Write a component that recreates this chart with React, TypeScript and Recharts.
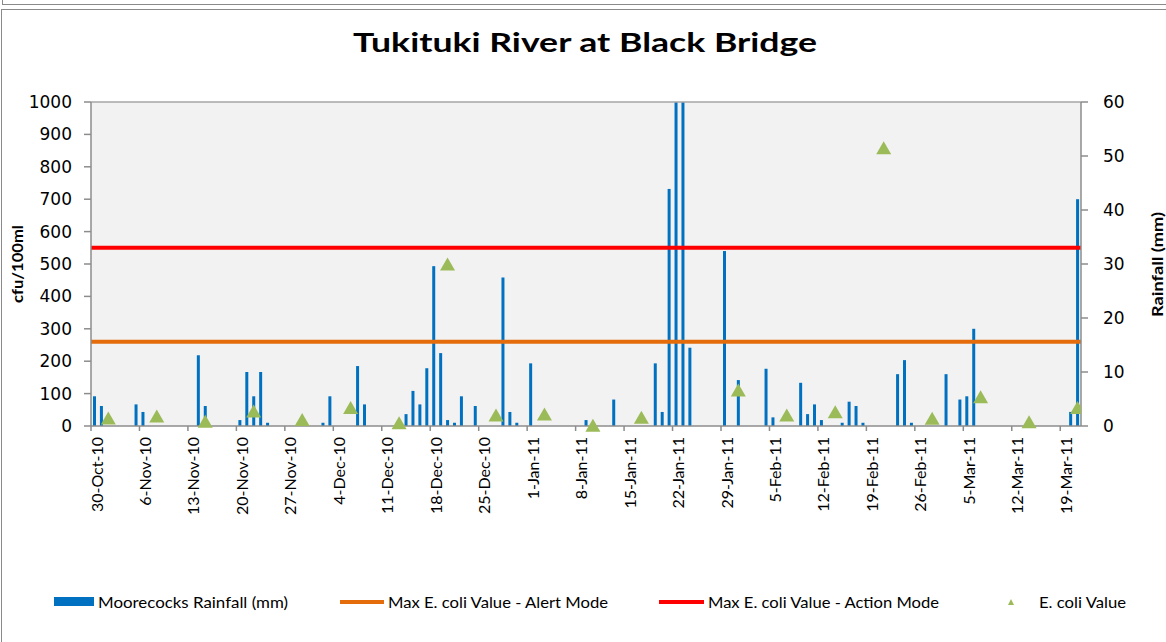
import React from 'react';
import { ComposedChart, Bar, Scatter, XAxis, YAxis, ReferenceLine, CartesianGrid } from 'recharts';

// Day index 0 = 30-Oct-10
const tickDays = [0, 7, 14, 21, 28, 35, 42, 49, 56, 63, 70, 77, 84, 91, 98, 105, 112, 119, 126, 133, 140];
const tickLabels = [
  '30-Oct-10', '6-Nov-10', '13-Nov-10', '20-Nov-10', '27-Nov-10', '4-Dec-10', '11-Dec-10',
  '18-Dec-10', '25-Dec-10', '1-Jan-11', '8-Jan-11', '15-Jan-11', '22-Jan-11', '29-Jan-11',
  '5-Feb-11', '12-Feb-11', '19-Feb-11', '26-Feb-11', '5-Mar-11', '12-Mar-11', '19-Mar-11',
];

const rainfallDays = [
  0, 1, 6, 7, 15, 16, 21, 22, 23, 24, 25, 33, 34, 38, 39, 45, 46, 47, 48, 49, 50, 51, 52, 53, 55,
  59, 60, 61, 63, 71, 75, 81, 82, 83, 84, 85, 86, 91, 93, 97, 98, 102, 103, 104, 105, 108, 109,
  110, 111, 116, 117, 118, 123, 125, 126, 127, 141, 142,
];
const rainfallMm = [
  5.5, 3.7, 4.0, 2.6, 13.1, 3.7, 1.1, 10.0, 5.5, 10.0, 0.6, 0.6, 5.5, 11.1, 4.0, 2.2, 6.5, 4.0, 10.7, 29.6, 13.5, 1.1, 0.6, 5.5, 3.7,
  27.5, 2.6, 0.6, 11.6, 1.1, 4.9, 11.6, 2.6, 43.9, 75, 70, 14.5, 32.4, 8.5, 10.6, 1.6, 8.0, 2.2, 4.0, 1.1, 0.6, 4.5,
  3.7, 0.6, 9.6, 12.2, 0.6, 9.6, 4.9, 5.5, 18.0, 2.6, 42.0,
];

const ecoliDays = [2, 9, 16, 23, 30, 37, 44, 51, 58, 65, 72, 79, 93, 100, 107, 114, 121, 128, 135, 142];
const ecoliValues = [25, 31, 15, 46, 20, 57, 10, 500, 34, 37, 2, 27, 111, 34, 44, 859, 24, 90, 13, 57];

const alertLimit = 260;
const actionLimit = 550;

const leftTicks = [0, 100, 200, 300, 400, 500, 600, 700, 800, 900, 1000];
const rightTicks = [0, 10, 20, 30, 40, 50, 60];

const rainData = rainfallDays.map((d, i) => ({ x: d + 0.5, rain: rainfallMm[i] }));
const ecoliData = ecoliDays.map((d, i) => ({ x: d + 0.5, y: ecoliValues[i] }));

const AXIS = '#8C8C8C';
const FONT = 'Lato, "DejaVu Sans", sans-serif';

const XTick = (props: any) => {
  const { x, y, payload } = props;
  const idx = tickDays.indexOf(payload.value);
  const label = idx >= 0 ? tickLabels[idx] : '';
  return (
    <text
      transform={`translate(${x + 5},${y + 4}) rotate(-90)`}
      textAnchor="end"
      dominantBaseline="central"
      fontFamily={FONT}
      fontSize={16}
      fill="#000"
    >
      {label}
    </text>
  );
};

const Tri = (props: any) => {
  const { cx, cy } = props;
  if (cx == null || cy == null) return null;
  const pts = `${cx},${cy - 6.5} ${cx - 7.5},${cy + 6.5} ${cx + 7.5},${cy + 6.5}`;
  return <polygon points={pts} fill="#9BBB59" />;
};

export default function App() {
  return (
    <div style={{ position: 'absolute', left: 0, top: 0, width: 1166, height: 642, overflow: 'hidden', background: '#fff' }}>
      <div style={{ position: 'absolute', left: 2, top: -2, width: 1170, height: 6, borderLeft: '1px solid #8a8a8a', borderBottom: '1px solid #8a8a8a' }} />
      <div style={{ position: 'absolute', left: 1, top: 9, width: 1170, height: 640, borderLeft: '1px solid #8a8a8a', borderTop: '1px solid #8a8a8a' }} />
      <div style={{ position: 'absolute', left: 0, top: 0 }}>
        <ComposedChart
          width={1166}
          height={642}
          data={rainData}
          margin={{ top: 102, right: 20, bottom: 116, left: 20 }}
        >
          <CartesianGrid yAxisId="left" horizontal={false} vertical={false} fill="#F2F2F2" />
          <XAxis
            dataKey="x"
            type="number"
            domain={[0, 143]}
            allowDataOverflow
            ticks={tickDays}
            interval={0}
            tick={<XTick />}
            tickSize={5}
            height={100}
            axisLine={{ stroke: AXIS, strokeWidth: 1.5 }}
            tickLine={{ stroke: AXIS, strokeWidth: 1.5 }}
          />
          <YAxis
            yAxisId="left"
            orientation="left"
            domain={[0, 1000]}
            ticks={leftTicks}
            interval={0}
            width={71}
            tickSize={7}
            tickMargin={12}
            tick={{ fontFamily: '"DejaVu Sans", sans-serif', fontSize: 17, fill: '#000' }}
            axisLine={{ stroke: AXIS, strokeWidth: 1.5 }}
            tickLine={{ stroke: AXIS, strokeWidth: 1.5 }}
          />
          <YAxis
            yAxisId="right"
            orientation="right"
            domain={[0, 60]}
            allowDataOverflow
            ticks={rightTicks}
            interval={0}
            width={65}
            tickSize={7}
            tickMargin={15}
            tick={{ fontFamily: '"DejaVu Sans", sans-serif', fontSize: 17, fill: '#000', textAnchor: 'start' }}
            axisLine={{ stroke: AXIS, strokeWidth: 1.5 }}
            tickLine={{ stroke: AXIS, strokeWidth: 1.5 }}
          />
          <ReferenceLine yAxisId="left" y={1000} stroke="#A6A6A6" strokeWidth={1.5} />
          <ReferenceLine yAxisId="left" y={alertLimit} stroke="#E46C0A" strokeWidth={4} />
          <ReferenceLine yAxisId="left" y={actionLimit} stroke="#FF0000" strokeWidth={4} />
          <Bar dataKey="rain" yAxisId="right" fill="#0070C0" barSize={3} isAnimationActive={false} />
          <Scatter data={ecoliData} dataKey="y" yAxisId="left" fill="#9BBB59" shape={Tri} isAnimationActive={false} />
        </ComposedChart>
      </div>
      <svg width={1166} height={642} style={{ position: 'absolute', left: 0, top: 0, pointerEvents: 'none' }}>
        <text x={353} y={52} textLength={464} lengthAdjust="spacingAndGlyphs" fontFamily={FONT} fontWeight={700} fontSize={27} fill="#000">
          Tukituki River at Black Bridge
        </text>
        <text transform="translate(16,303) rotate(-90)" textLength={78} lengthAdjust="spacingAndGlyphs" dominantBaseline="central" fontFamily={FONT} fontWeight={700} fontSize={16} fill="#000">
          cfu/100ml
        </text>
        <text transform="translate(1156,317) rotate(-90)" textLength={105} lengthAdjust="spacingAndGlyphs" dominantBaseline="central" fontFamily={FONT} fontWeight={700} fontSize={16} fill="#000">
          Rainfall (mm)
        </text>
        <g fontFamily={FONT} fontSize={15} fill="#000">
          <rect x={54} y={597} width={40} height={9} fill="#0070C0" />
          <text x={98} y={608} textLength={190} lengthAdjust="spacingAndGlyphs">Moorecocks Rainfall (mm)</text>
          <line x1={340} x2={384} y1={602} y2={602} stroke="#E46C0A" strokeWidth={4} />
          <text x={388} y={608} textLength={220} lengthAdjust="spacingAndGlyphs">Max E. coli Value - Alert Mode</text>
          <line x1={659} x2={704} y1={602} y2={602} stroke="#FF0000" strokeWidth={4} />
          <text x={708} y={608} textLength={231} lengthAdjust="spacingAndGlyphs">Max E. coli Value - Action Mode</text>
          <polygon points="1011,599 1008,605 1014,605" fill="#9BBB59" />
          <text x={1039} y={608} textLength={87} lengthAdjust="spacingAndGlyphs">E. coli Value</text>
        </g>
      </svg>
    </div>
  );
}
